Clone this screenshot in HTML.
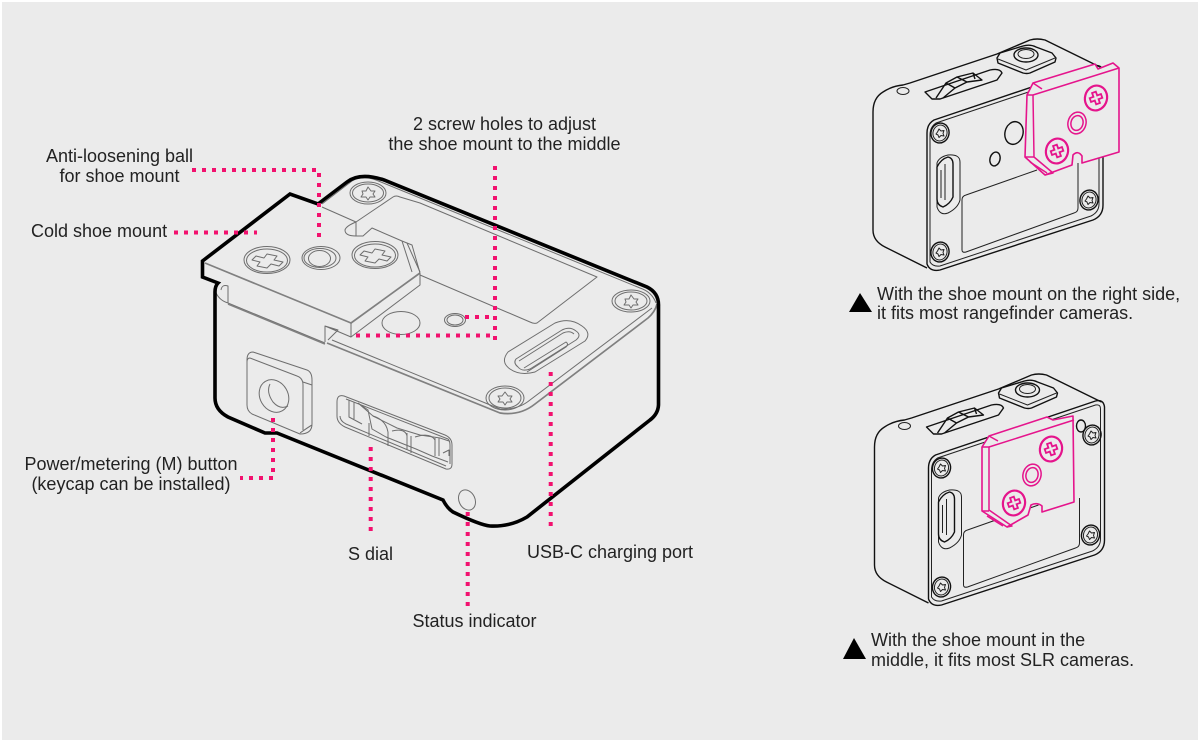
<!DOCTYPE html>
<html><head><meta charset="utf-8"><style>
html,body{margin:0;padding:0;background:#fff;width:1200px;height:742px;overflow:hidden}
svg{display:block;position:absolute;left:0;top:0}
text{font-family:"Liberation Sans",sans-serif;font-size:18px;fill:#222}
.g{fill:none;stroke:#6e6e6e;stroke-width:1;stroke-linejoin:round}
.g2{fill:none;stroke:#808080;stroke-width:1.7;stroke-linejoin:round}
.d{fill:none;stroke:#f2116e;stroke-width:4;stroke-dasharray:4 6}
.k{fill:none;stroke:#111;stroke-width:1.4;stroke-linejoin:round}
.k1{fill:none;stroke:#222;stroke-width:1;stroke-linejoin:round}
.p{fill:#ebebeb;stroke:#e5148c;stroke-width:1.6;stroke-linejoin:round}
.pn{fill:none;stroke:#e5148c;stroke-width:1.5;stroke-linejoin:round}
.ps{fill:none;stroke:#e5148c;stroke-width:2.2}
</style></head><body>
<svg width="1200" height="742" viewBox="0 0 1200 742" xmlns="http://www.w3.org/2000/svg">
<rect x="2" y="2" width="1196" height="738" fill="#ebebeb"/>

<!-- main device thin lines -->
<g>
<path class="g2" d="M205 263L351 323L420 273"/>
<path class="g" d="M351 323V337L325 326V342M351 337L420 285V273M325 326L338 330L328 340"/>
<path class="g" d="M420 273L412 245L402 241L372 228L363 236H356V222L322 207M356 236Q345 236 345 230Q346 226 356 222"/>
<path class="g" d="M402 241L412 272M407 243L420 272"/>
<path class="g" d="M356 222L393 197Q396 195 400 197L420 203L597 277L537 323Q534 324 530 322L420 275"/>
<path class="g" d="M322 204L352 181Q362 175 376 180L420 198L640 288Q652 292 656 303"/>
<path class="g2" d="M657 304Q655 312 648 318L535 404Q520 416 500 413L327 343"/>
<path class="g" d="M652 308L530 400Q518 410 500 409L332 340"/>
<path class="g" d="M215 290Q218 300 228 303V286Q222 284 221 290M228 303L325 343"/>
<path class="g2" d="M228 304L325 344"/>
<g class="g">
<ellipse cx="267" cy="260" rx="23" ry="13.500"/><ellipse cx="267" cy="260.500" rx="20.500" ry="11.500"/>
<path d="M256 256L264 258L267 254L277 256L274 260L283 262L279 266L271 264L267 268L257 266L260 262L252 260Z"/>
<ellipse cx="375" cy="255" rx="23" ry="13.500"/><ellipse cx="375" cy="255.500" rx="20.500" ry="11.500"/>
<path d="M364 251L372 253L375 249L385 251L382 255L391 257L387 261L379 259L375 263L365 261L368 257L360 255Z"/>
<ellipse cx="321" cy="258" rx="19" ry="11.500"/><ellipse cx="320" cy="258" rx="16" ry="9.500"/><ellipse cx="319.500" cy="258.500" rx="11" ry="8"/>
<ellipse cx="368" cy="193" rx="18" ry="11"/><ellipse cx="368" cy="193" rx="15.500" ry="9"/>
<path d="M362 191L366 191L368 187L371 191L375 191L373 194L375 197L370 197L368 200L366 197L361 197L363 194Z"/>
<ellipse cx="631" cy="301" rx="19" ry="11"/><ellipse cx="631" cy="301" rx="16" ry="9"/>
<path d="M625 299L629 299L631 295L634 299L638 299L636 302L638 305L633 305L631 308L629 305L624 305L626 302Z"/>
<ellipse cx="505" cy="398" rx="19" ry="12"/><ellipse cx="505" cy="398" rx="16" ry="10"/>
<path d="M498 396L502 396L505 392L508 396L512 396L510 399L512 402L507 402L505 405L503 402L498 402L500 399Z"/>
<ellipse cx="401" cy="323" rx="19" ry="11.500"/>
<ellipse cx="455" cy="320" rx="10.500" ry="6.500"/><ellipse cx="455" cy="320" rx="8" ry="5"/>
<path d="M555 323Q570 317 582 326Q592 333 585 341L535 372Q520 376 510 369Q500 362 508 352Z"/>
<path d="M516 359L562 330Q570 326 576 331Q582 335 576 340L530 369Q522 372 518 367Q513 363 516 359Z"/>
<path d="M519 361L563 333Q570 330 574 334M527 372L566 347Q569 344 566 342L524 368"/>
<path d="M253 352L307 370Q312 372 312 380V424Q312 434 300 434L252 414Q247 411 247 405V360Q247 352 253 352Z"/>
<path d="M250 358L297 376Q303 378 303 385V430M250 358Q247 358 247 362M303 382L312 385"/>
<path d="M300 433Q310 426 312 425"/>
<ellipse cx="274" cy="396" rx="14" ry="17" transform="rotate(-30 274 396)"/>
<path d="M270 384Q266 392 273 402Q280 410 288 406"/>
<path d="M344 396L445 435Q452 438 452 445V464Q452 470 446 469L345 427Q337 423 337 416V402Q337 394 344 396Z"/>
<path d="M346 399L448 439Q450 441 450 445V464M340 416Q340 421 346 424L446 466"/>
<path d="M349 400V417L362 424M354 402V419M358 403L368 410L372 429L386 437L401 443L416 449L432 456L448 462"/>
<path d="M358 403L373 416L397 428L420 435L440 438L449 441M369 423V436M388 432V446M407 433V450M411 436V453M435 438V456M439 438V456"/>
<path d="M373 416Q386 420 388 432M392 431Q405 428 407 436M415 437Q430 432 435 440M443 453L449 450V456"/>
<ellipse cx="467" cy="500" rx="8" ry="10.500" transform="rotate(-25 467 500)"/>
</g>
</g>

<!-- main black outline -->
<path fill="none" stroke="#000" stroke-width="3.600" stroke-linejoin="miter" d="M202.500 261L290 194L318 204L347 182Q360 172 384 180L647 287Q659 293 658.500 306V405Q658 414 650 420L527 517Q510 527 490 526Q480 525 453 512Q447 508 443 500L277 433H265L228 417Q215 410 215 398V292Q215 286 218 283L202.500 277Z"/>

<!-- dotted leaders -->
<g>
<path class="d" d="M192 170H319V243"/>
<path class="d" d="M174 232.500H257"/>
<path class="d" d="M495 166V340"/>
<path class="d" d="M465 317H495"/>
<path class="d" d="M356 335.500H495"/>
<path class="d" d="M273 418V478H240"/>
<path class="d" d="M370.700 447V536"/>
<path class="d" d="M550.700 372V532"/>
<path class="d" d="M467.700 512V606"/>
</g>

<!-- labels -->
<text x="504.500" y="130" text-anchor="middle">2 screw holes to adjust</text>
<text x="504.500" y="150" text-anchor="middle">the shoe mount to the middle</text>
<text x="119.500" y="162" text-anchor="middle">Anti-loosening ball</text>
<text x="119.500" y="182" text-anchor="middle">for shoe mount</text>
<text x="31" y="237">Cold shoe mount</text>
<text x="131" y="470" text-anchor="middle">Power/metering (M) button</text>
<text x="131" y="490" text-anchor="middle">(keycap can be installed)</text>
<text x="370.500" y="560" text-anchor="middle">S dial</text>
<text x="610" y="558" text-anchor="middle">USB-C charging port</text>
<text x="474.500" y="627" text-anchor="middle">Status indicator</text>
<text x="877" y="300">With the shoe mount on the right side,</text>
<text x="877" y="319">it fits most rangefinder cameras.</text>
<text x="871" y="646">With the shoe mount in the</text>
<text x="871" y="666">middle, it fits most SLR cameras.</text>
<path d="M860 293L872 312H849Z" fill="#000"/>
<path d="M854 638L866 659H843Z" fill="#000"/>

<defs>
<g id="sc">
<ellipse class="k" rx="9" ry="10" transform="rotate(15)"/>
<ellipse class="k1" rx="7" ry="8" transform="rotate(15)"/>
<path class="k1" d="M-1 -4L1 -2L4 -2.500L3 0.500L4 3L1 2.500L-1 4.500L-2 2L-4 1L-2.500 -1Z"/>
</g>
<g id="base">
<path class="k" d="M927 268L885 247Q873 241 873 230V112Q873 98 883 92Q892 86 903 85L910 83L997 54L1030 40Q1037 38 1045 40L1100 67"/>
<path class="k" d="M927 133Q927 124 934 120L1094 66Q1102 64 1103 72V205Q1103 216 1093 220L940 270Q930 272 927 264Z"/>
<path class="k1" d="M930 135Q930 127 936 123L1094 70Q1099 69 1099 74V204Q1099 212 1091 216L940 266Q933 267 930 262Z"/>
<path class="k" d="M925 92L990 70Q1000 68 1002 73L997 80L940 99L932 99Z"/>
<path class="k" d="M936 98L946 83L957 77L973 73L982 80L967 82L955 88L943 98M946 83L955 88M957 77L967 82M973 73L975 79"/>
<path class="k" d="M997 58L1000 53L1023 46Q1030 44 1036 47L1052 53L1056 58L1055 62L1030 73Q1027 74 1023 73L998 63Z"/>
<path class="k1" d="M998 59L1026 70L1055 58"/>
<ellipse class="k" cx="1026" cy="55" rx="12" ry="7"/><ellipse class="k1" cx="1026" cy="54" rx="8" ry="4.500"/>
<ellipse class="k1" cx="903" cy="91" rx="6" ry="3.500"/>
<use href="#sc" x="940" y="133"/><use href="#sc" x="940" y="252"/><use href="#sc" x="1089" y="200"/>
<path class="k1" d="M937 163Q939 157 948 155Q960 154 960 162V200Q958 208 948 213Q940 216 937 207Z"/>
<path class="k" d="M937 167Q941 159 948 157Q953 158 953 164V197Q950 204 943 207Q937 205 937 199Z" stroke-width="1.800"/>
<path class="k1" d="M941 170V198M945 164V200"/>
<ellipse class="k" cx="1014" cy="133" rx="9" ry="11.500" transform="rotate(15 1014 133)"/>
<ellipse class="k" cx="995" cy="159" rx="5" ry="7" transform="rotate(15 995 159)"/>
<path class="k1" d="M1037 170L966 195Q962 196 962 200V250Q962 253 966 252L1074 213Q1078 212 1078 208V163"/>
</g>
<g id="cross" transform="rotate(-20)"><path d="M-6 -2H-2V-6H2V-2H6V2H2V6H-2V2H-6Z" fill="none" stroke="#e5148c" stroke-width="1.800"/></g>
</defs>

<!-- right device 1 -->
<use href="#base"/>
<g>
<path class="p" d="M1027 95L1033 83L1095 64L1098 69L1113 63L1119 68V152L1082 163V156Q1078 150 1073 155L1072 165L1045 175L1025 157Z"/>
<path class="pn" d="M1033 83L1042 89M1027 95H1033L1119 68M1033 95L1034 157L1053 173L1045 175M1025 157H1034M1030 162L1047 173"/>
<ellipse class="ps" cx="1096" cy="98" rx="11" ry="12.500" transform="rotate(15 1096 98)"/>
<ellipse class="ps" cx="1057" cy="151" rx="11" ry="12.500" transform="rotate(15 1057 151)"/>
<g transform="translate(1096 98)"><use href="#cross"/></g>
<g transform="translate(1057 151)"><use href="#cross"/></g>
<ellipse class="pn" cx="1077" cy="123" rx="9" ry="11" transform="rotate(15 1077 123)"/>
<ellipse class="pn" cx="1077" cy="123" rx="6" ry="7.500" transform="rotate(15 1077 123)"/>
</g>

<!-- right device 2 -->
<g transform="translate(1.500 335)"><use href="#base"/></g>
<g>
<ellipse class="k" cx="1081" cy="426" rx="4.500" ry="6"/>
<use href="#sc" x="1092" y="435"/>
<path class="p" d="M982 447L989 436L1047 417L1053 420L1073 416L1074 502L1042 512V506Q1037 502 1031 505L1028 515L1007 527L982 511Z"/>
<path class="pn" d="M989 436L998 441M982 447H989L1074 420M989 447V510L1012 526L1007 527M982 511H989M987 516L1003 526"/>
<ellipse class="ps" cx="1051" cy="449" rx="11" ry="12.500" transform="rotate(15 1051 449)"/>
<ellipse class="ps" cx="1014" cy="503" rx="11" ry="12.500" transform="rotate(15 1014 503)"/>
<g transform="translate(1051 449)"><use href="#cross"/></g>
<g transform="translate(1014 503)"><use href="#cross"/></g>
<ellipse class="pn" cx="1032" cy="475" rx="9" ry="11" transform="rotate(15 1032 475)"/>
<ellipse class="pn" cx="1032" cy="475" rx="6" ry="7.500" transform="rotate(15 1032 475)"/>
</g>
</svg>
</body></html>
